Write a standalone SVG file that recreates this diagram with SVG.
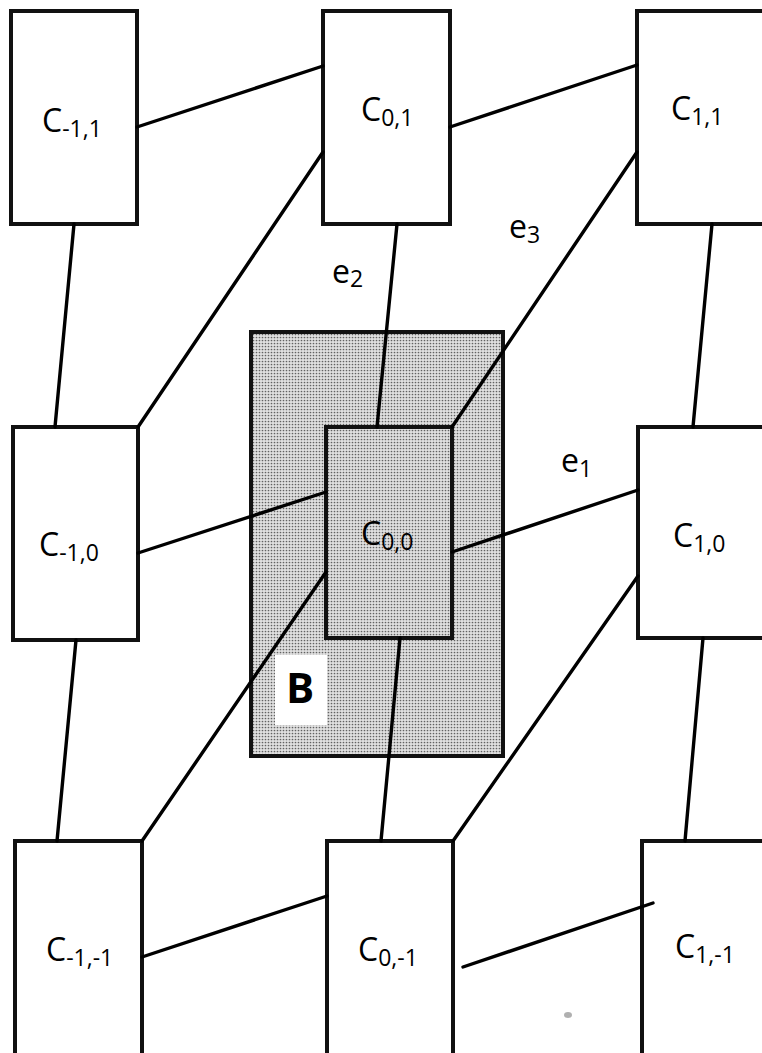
<svg xmlns="http://www.w3.org/2000/svg" width="762" height="1053" viewBox="0 0 762 1053">
<defs>
<pattern id="dots" width="3" height="3" patternUnits="userSpaceOnUse">
<rect width="3" height="3" fill="#e0e0e0"/>
<circle cx="1.5" cy="1.5" r="0.85" fill="#626262"/>
</pattern>
</defs>
<style>
.box{fill:#fff;stroke:#111;stroke-width:4}
.inner{fill:none;stroke:#111;stroke-width:4}
.region{fill:url(#dots);stroke:#111;stroke-width:4}
.edge{stroke:#000;stroke-width:3.4;stroke-linecap:round;fill:none}
.lbl{font-family:"Open Sans","Noto Sans","Liberation Sans",sans-serif;font-size:32px;fill:#000}
.sub{font-size:23px}
.big{font-family:"Open Sans","Noto Sans","Liberation Sans",sans-serif;font-size:42px;font-weight:bold;fill:#000}
</style>
<rect width="762" height="1053" fill="#fff"/>
<g id="B">
<rect class="region" x="251" y="332" width="252" height="424"/>
</g>
<g id="C_m1_1"><rect class="box" x="11" y="11" width="126" height="213"/><text class="lbl" x="42" y="132">C<tspan class="sub" dy="5">-1,1</tspan></text></g>
<g id="C_0_1"><rect class="box" x="323" y="11" width="127" height="213"/><text class="lbl" x="361" y="121">C<tspan class="sub" dy="5">0,1</tspan></text></g>
<g id="C_1_1"><rect class="box" x="637" y="11" width="150" height="213"/><text class="lbl" x="671" y="120">C<tspan class="sub" dy="5">1,1</tspan></text></g>
<g id="C_m1_0"><rect class="box" x="13" y="427" width="125" height="213"/><text class="lbl" x="39" y="556">C<tspan class="sub" dy="5">-1,0</tspan></text></g>
<g id="C_0_0"><rect class="inner" x="326" y="427" width="126" height="211"/><text class="lbl" x="361" y="545">C<tspan class="sub" dy="5">0,0</tspan></text></g>
<g id="C_1_0"><rect class="box" x="638" y="427" width="150" height="211"/><text class="lbl" x="673" y="547">C<tspan class="sub" dy="5">1,0</tspan></text></g>
<g id="C_m1_m1"><rect class="box" x="15" y="841" width="127" height="250"/><text class="lbl" x="46" y="961">C<tspan class="sub" dy="5">-1,-1</tspan></text></g>
<g id="C_0_m1"><rect class="box" x="327" y="841" width="126" height="250"/><text class="lbl" x="358" y="961">C<tspan class="sub" dy="5">0,-1</tspan></text></g>
<g id="C_1_m1"><rect class="box" x="642" y="841" width="150" height="250"/><text class="lbl" x="675" y="958">C<tspan class="sub" dy="5">1,-1</tspan></text></g>
<g id="connectors">
<line class="edge" x1="137" y1="127" x2="323" y2="66"/>
<line class="edge" x1="450" y1="127" x2="637" y2="65"/>
<line class="edge" x1="74" y1="224" x2="55" y2="427"/>
<line class="edge" x1="397" y1="224" x2="377" y2="427"/>
<line class="edge" x1="712" y1="224" x2="693" y2="427"/>
<line class="edge" x1="323" y1="152" x2="138" y2="427"/>
<line class="edge" x1="637" y1="152" x2="452" y2="427"/>
<line class="edge" x1="138" y1="553" x2="326" y2="492"/>
<line class="edge" x1="452" y1="552" x2="638" y2="490"/>
<line class="edge" x1="76" y1="640" x2="57" y2="841"/>
<line class="edge" x1="400" y1="638" x2="381" y2="841"/>
<line class="edge" x1="703" y1="638" x2="685" y2="841"/>
<line class="edge" x1="326" y1="572" x2="142" y2="841"/>
<line class="edge" x1="638" y1="576" x2="453" y2="841"/>
<line class="edge" x1="142" y1="957" x2="327" y2="896"/>
<line class="edge" x1="463" y1="967" x2="653" y2="903"/>
</g>
<g id="edge-labels">
<text class="lbl" x="332" y="283">e<tspan class="sub" dy="4">2</tspan></text>
<text class="lbl" x="509" y="238">e<tspan class="sub" dy="5">3</tspan></text>
<text class="lbl" x="561" y="472">e<tspan class="sub" dy="5">1</tspan></text>
</g>
<g id="B-label">
<rect x="275" y="655" width="52" height="70" fill="#fff"/>
<text class="big" x="286" y="703">B</text>
</g>
<ellipse cx="568" cy="1015" rx="4" ry="3" fill="#b0b0b0"/>
</svg>
